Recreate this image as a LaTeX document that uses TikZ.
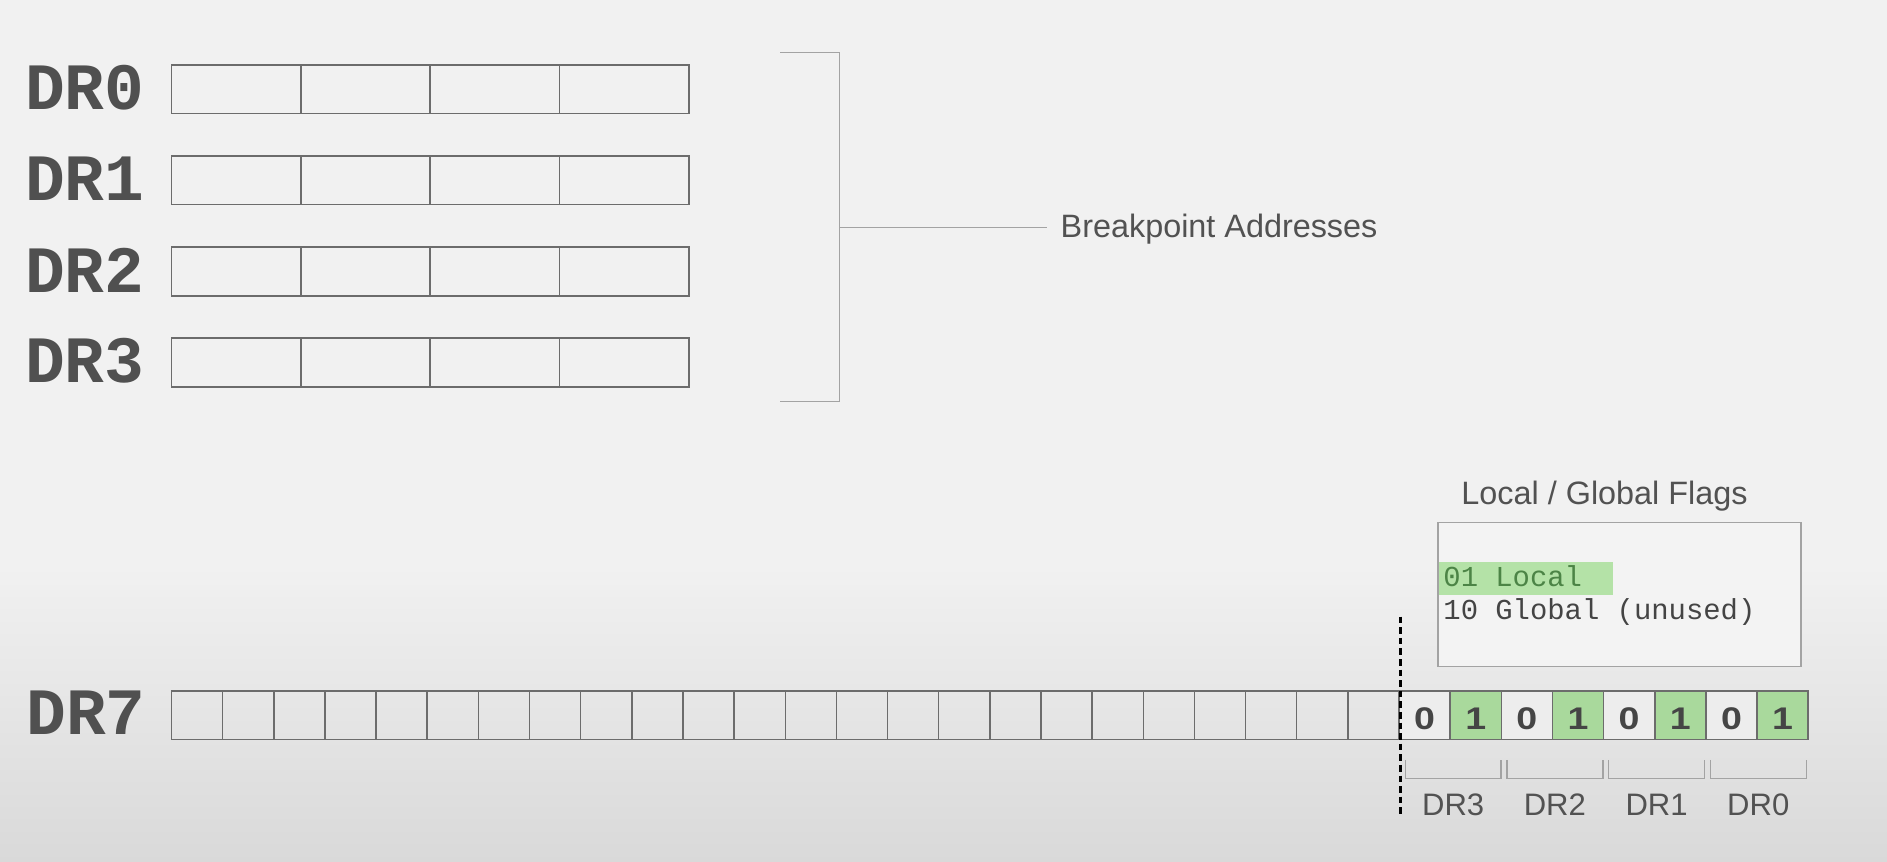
\documentclass[tikz,border=0pt]{standalone}
\usepackage{fontspec}
\setmainfont{Liberation Sans}
\newfontfamily\monof{Liberation Mono}
\newfontfamily\digitfont{Liberation Sans Bold}
\usetikzlibrary{calc}
\definecolor{bg}{HTML}{F1F1F1}
\definecolor{bgdark}{HTML}{D9D9D9}
\definecolor{boxline}{HTML}{6C6C6C}
\definecolor{lightline}{HTML}{A3A3A3}
\definecolor{txt}{HTML}{525252}
\definecolor{labelc}{HTML}{505050}
\definecolor{cellgreen}{HTML}{A9D99C}
\definecolor{zerofill}{HTML}{EDEDED}
\definecolor{hlgreen}{HTML}{B4E2A7}
\definecolor{greentxt}{HTML}{4C8446}
\definecolor{monotxt}{HTML}{444444}
\definecolor{digitc}{HTML}{454545}
\begin{document}
\begin{tikzpicture}[x=0.5pt,y=-0.5pt,
  reglabel/.style={font=\monof\bfseries\fontsize{27.5}{30}\selectfont, text=labelc, inner sep=0pt},
  regcell/.style={draw=boxline, line width=0.62pt, minimum width=53.8pt, minimum height=20.25pt, inner sep=0pt, outer sep=0pt, anchor=north west},
  bitcell/.style={draw=boxline, line width=0.62pt, minimum width=21.25pt, minimum height=20.25pt, inner sep=0pt, outer sep=0pt, anchor=north west},
  sanstext/.style={font=\fontsize{13.45}{16}\selectfont, text=txt, inner sep=0pt},
  monotext/.style={font=\monof\fontsize{12}{14}\selectfont, inner sep=0pt, anchor=base west},
  digit/.style={font=\digitfont\fontsize{13}{15}\selectfont, text=digitc, inner sep=0pt},
  thinline/.style={draw=lightline, line width=0.6pt}
]
\useasboundingbox (0,0) rectangle (1568,716);
\fill[bg] (0,0) rectangle (1568,716);
\shade[top color=bg, bottom color=bgdark] (0,470) rectangle (1568,716.5);

% DR0 - DR3 registers
\foreach \i/\y in {0/54,1/129.6,2/205.3,3/281} {
  \node[reglabel] (lab\i) at (70.5,\y+19) {DR\i};
  \foreach \c in {0,...,3}
    \node[regcell] (r\i c\c) at (142.5+\c*107.5,\y) {};
}

% bracket to Breakpoint Addresses
\coordinate (brTop) at (648.5,43.5);
\coordinate (brBot) at (648.5,333.8);
\coordinate (brMid) at (697.4,188.9);
\draw[thinline] (brTop) -- ++(48.9,0) |- (brBot);
\node[sanstext, anchor=base west] (bp) at (881,197.5) {Breakpoint Addresses};
\draw[thinline] (brMid) -- ($(brMid -| bp.west)+(-11,0)$);

% Local / Global flags
\node[sanstext, anchor=base west] (lgtitle) at (1214,419.6) {Local / Global Flags};
\node[draw=lightline, line width=0.55pt, fill=bg!85!white, minimum width=150.75pt, minimum height=60pt, inner sep=0pt] (flagbox) at (1345.75,494) {};
\fill[hlgreen] (1195.5,466.7) rectangle (1340,494.4);
\node[monotext, text=greentxt] (loc) at (1199,487) {01 Local};
\node[monotext, text=monotxt] (glob) at (1199,514.5) {10 Global (unused)};

% DR7
\node[reglabel] (lab7) at (71.5,592.5) {DR7};
\foreach \k in {0,...,23}
  \node[bitcell] (b\k) at (142.5+\k*42.5,574) {};
\foreach \k in {24,26,28,30} {
  \node[bitcell, fill=zerofill] (b\k) at (142.5+\k*42.5,574) {};
  \node[digit] (d\k) at ($(b\k.center)+(0,3)$) {\scalebox{1.2}[1]{0}};
}
\foreach \k in {25,27,29,31} {
  \node[bitcell, fill=cellgreen] (b\k) at (142.5+\k*42.5,574) {};
  \node[digit] (d\k) at ($(b\k.center)+(0,3)$) {\scalebox{1.2}[1]{1}};
}

% dashed separator
\coordinate (dtop) at (1163.8,512.4);
\coordinate (dbot) at (1163.8,676);
\draw[black, line width=1.15pt, dash pattern=on 2.75pt off 1.65pt] (dtop) -- (dbot);

% brackets under the flag pairs
\foreach \j/\n in {0/3,1/2,2/1,3/0} {
  \coordinate (ul\j) at (1167.7+\j*84.5,631.5);
  \coordinate (ur\j) at (1247.4+\j*84.5,631.5);
  \draw[thinline] (ul\j) -- ++(0,15.2) -| (ur\j);
  \node[sanstext, font=\fontsize{12.9}{15}\selectfont, anchor=base] (pl\j) at (1207.5+\j*84.5,678) {DR\n};
}
\end{tikzpicture}
\end{document}
